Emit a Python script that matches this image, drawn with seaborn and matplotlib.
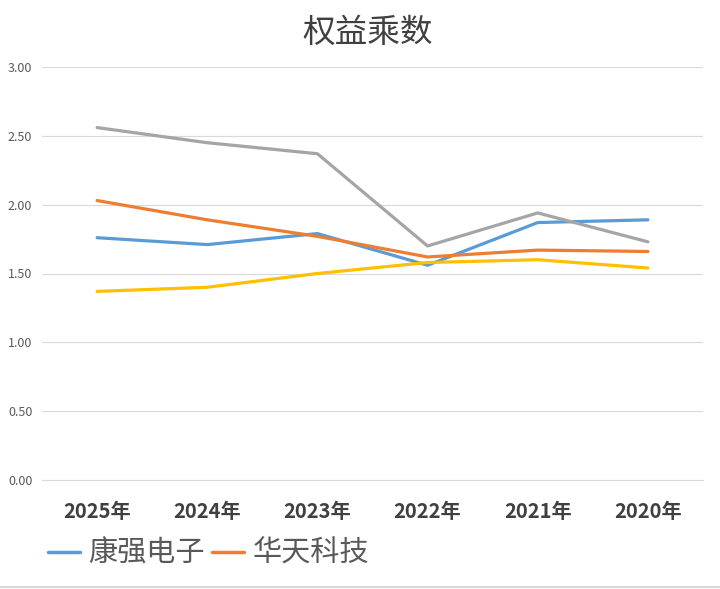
import pandas as pd
import matplotlib.pyplot as plt
import seaborn as sns

# data
years = ["2025年", "2024年", "2023年", "2022年", "2021年", "2020年"]
kangqiang = [1.76, 1.71, 1.79, 1.56, 1.87, 1.89]
huatian = [2.03, 1.89, 1.77, 1.62, 1.67, 1.66]
series3 = [2.56, 2.45, 2.37, 1.70, 1.94, 1.73]
series4 = [1.37, 1.40, 1.50, 1.58, 1.60, 1.54]

names = ["康强电子", "华天科技", "系列3", "系列4"]
colors = ["#5B9BD5", "#ED7D31", "#A5A5A5", "#FFC000"]

df = pd.DataFrame({
    "year": years * 4,
    "value": kangqiang + huatian + series3 + series4,
    "company": [n for n in names for _ in years],
})

sns.set_style("white")
plt.rcParams['font.family'] = ['Noto Sans CJK SC', 'DejaVu Sans']

fig = plt.figure(figsize=(7.2, 5.89), dpi=100)
ax = fig.add_axes([42 / 720, 1 - 480 / 589, (703 - 42) / 720, (480 - 67) / 589])

sns.lineplot(data=df, x="year", y="value", hue="company", palette=colors,
             sort=False, linewidth=2.3, ax=ax, legend=False)

ax.set_ylim(0, 3)
ax.set_xlim(-0.5, 5.5)
ax.set_yticks([0, 0.5, 1.0, 1.5, 2.0, 2.5, 3.0])
ax.set_yticklabels([f"{v:.2f}" for v in ax.get_yticks()], fontsize=9, color="#595959")
ax.tick_params(axis="y", pad=7, length=0)
ax.tick_params(axis="x", length=0, pad=15)
for lab in ax.get_xticklabels():
    lab.set_fontsize(14.5)
    lab.set_fontweight("bold")
    lab.set_color("#404040")
ax.set_xlabel("")
ax.set_ylabel("")
ax.grid(axis="y", color="#D9D9D9", linewidth=0.8)
ax.set_axisbelow(True)
for s in ["top", "right", "left"]:
    ax.spines[s].set_visible(False)
ax.spines["bottom"].set_color("#D9D9D9")
ax.spines["bottom"].set_linewidth(0.8)

fig.text(368 / 720, 1 - 33 / 589, "权益乘数", ha="center", va="center",
         fontsize=23.5, color="#404040")

handles = [plt.Line2D([], [], color=c, linewidth=2.5) for c in colors[:2]]
fig.legend(handles, names[:2], loc="center left",
           bbox_to_anchor=(22 / 720, 1 - 554 / 589), frameon=False, ncol=2,
           fontsize=21, handlelength=1.1, handletextpad=0.28, columnspacing=0.25,
           labelcolor="#595959")

fig.add_artist(plt.Line2D([0, 1], [1 - 587 / 589] * 2, color="#D9D9D9", linewidth=1.5))

plt.savefig("out.png", dpi=100)
